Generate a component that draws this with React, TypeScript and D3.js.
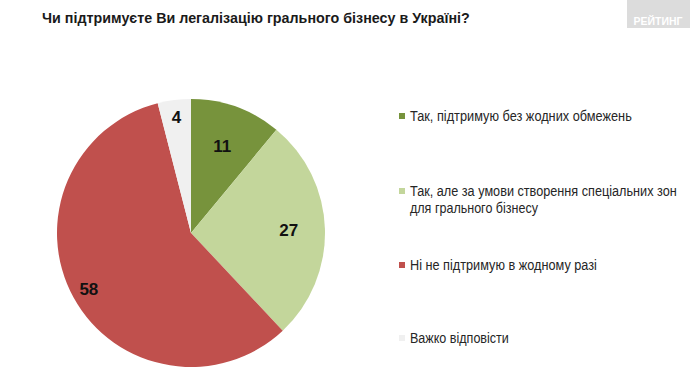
import React, { useLayoutEffect, useRef, useState } from "react";
import * as d3 from "d3";

const title = "Чи підтримуєте Ви легалізацію грального бізнесу в Україні?";
const logoText = "РЕЙТИНГ";
const categories = [
  ["Так, підтримую без жодних обмежень"],
  ["Так, але за умови створення спеціальних зон", "для грального бізнесу"],
  ["Ні не підтримую в жодному разі"],
  ["Важко відповісти"],
];
const values = [11, 27, 58, 4];
const colors = ["#77933C", "#C3D69B", "#C0504D", "#F0F0F0"];
const labelRadiusFactor = [0.69, 0.73, 0.87, 0.87];
const legendLineWidths = [[222], [267, 128], [187], [99]];
const legendY = [116, 191, 265, 338];

const W = 690;
const H = 382;
const cx = 191;
const cy = 233;
const R = 134;
const FONT = "'Liberation Sans', Arial, sans-serif";

function FitText(props: {
  x: number;
  y: number;
  width: number;
  anchor?: "start" | "middle";
  fontSize: number;
  fontWeight?: string;
  fill: string;
  children: string;
}) {
  const ref = useRef<SVGTextElement>(null);
  const [sx, setSx] = useState(1);
  useLayoutEffect(() => {
    if (ref.current) {
      const w = ref.current.getComputedTextLength();
      if (w > 0) setSx(props.width / w);
    }
  }, [props.width, props.children]);
  return (
    <g transform={`translate(${props.x},${props.y}) scale(${sx},1)`}>
      <text
        ref={ref}
        x={0}
        y={0}
        textAnchor={props.anchor || "start"}
        fontFamily={FONT}
        fontSize={props.fontSize}
        fontWeight={props.fontWeight || "normal"}
        fill={props.fill}
      >
        {props.children}
      </text>
    </g>
  );
}

export default function App() {
  const pie = d3.pie<number>().sort(null).value((d) => d);
  const arcs = pie(values);
  const arcGen = d3.arc<d3.PieArcDatum<number>>().innerRadius(0).outerRadius(R);

  return (
    <svg
      width={W}
      height={H}
      style={{ position: "absolute", left: 0, top: 0, background: "#fff" }}
    >
      <rect x={0} y={0} width={W} height={H} fill="#fff" />
      <FitText x={42} y={23} width={428} fontSize={15.5} fontWeight="bold" fill="#1a1a1a">
        {title}
      </FitText>
      <rect x={627} y={0} width={63} height={28} fill="#dcdcdc" />
      <FitText x={658} y={25} width={49} anchor="middle" fontSize={10} fontWeight="bold" fill="#fff">
        {logoText}
      </FitText>
      <g transform={`translate(${cx},${cy})`}>
        {arcs.map((a, i) => (
          <path key={i} d={arcGen(a) || ""} fill={colors[i]} />
        ))}
        {arcs.map((a, i) => {
          const mid = (a.startAngle + a.endAngle) / 2;
          const r = R * labelRadiusFactor[i];
          const x = Math.sin(mid) * r;
          const y = -Math.cos(mid) * r;
          return (
            <text
              key={i}
              x={x}
              y={y}
              dy="0.36em"
              textAnchor="middle"
              fontFamily={FONT}
              fontWeight="bold"
              fontSize={17}
              fill="#111"
            >
              {values[i]}
            </text>
          );
        })}
      </g>
      {categories.map((lines, i) => (
        <g key={i}>
          <rect x={399} y={legendY[i] - 3} width={6} height={6} fill={colors[i]} />
          {lines.map((ln, j) => (
            <FitText
              key={j}
              x={410}
              y={legendY[i] + 5 + j * 17}
              width={legendLineWidths[i][j]}
              fontSize={14.5}
              fill="#262626"
            >
              {ln}
            </FitText>
          ))}
        </g>
      ))}
    </svg>
  );
}
